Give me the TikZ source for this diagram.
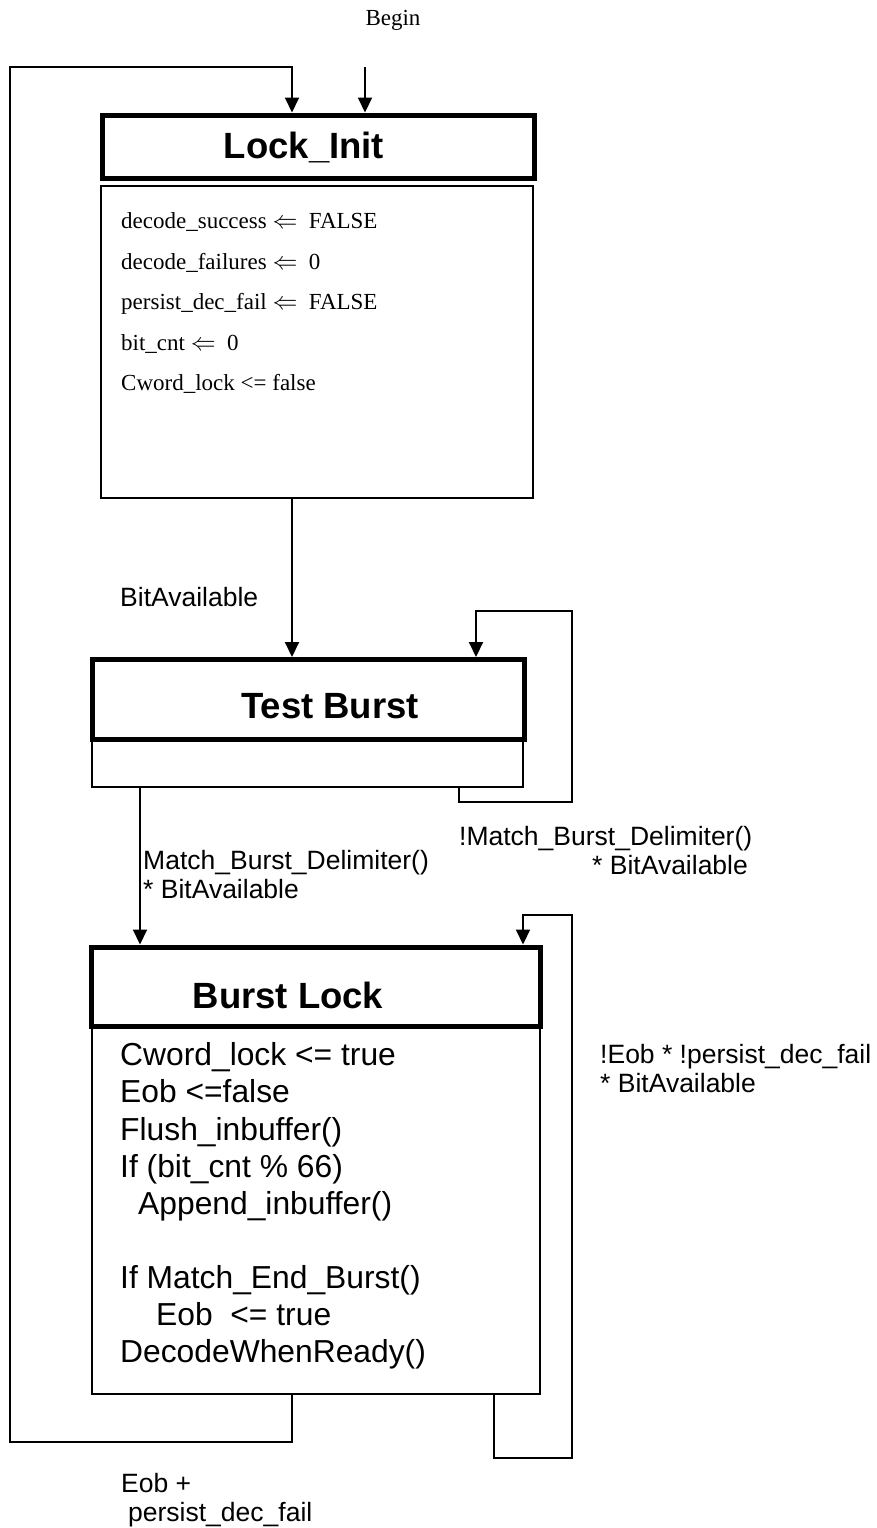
\documentclass[tikz,border=0pt]{standalone}
\usepackage{fontspec}
\setmainfont{Liberation Serif}
\setsansfont{Liberation Sans}
\usepackage{tikz}
\usetikzlibrary{arrows.meta,positioning}

\begin{document}
\begin{tikzpicture}[
    x=1pt, y=-1pt,
    >={Triangle[length=15pt,width=14pt]},
    head/.style={draw, line width=5pt, rectangle, inner sep=0pt},
    body/.style={draw, line width=2pt, rectangle, inner sep=0pt, fill=white},
    title/.style={font=\sffamily\bfseries\fontsize{36.5}{40}\selectfont, anchor=base, inner sep=0pt},
    initlines/.style={font=\fontsize{23}{40.5}\selectfont, align=left, anchor=west, inner sep=0pt},
    codelines/.style={font=\sffamily\fontsize{31.8}{37.1}\selectfont, align=left, anchor=west, inner sep=0pt},
    lab/.style={font=\sffamily\fontsize{26.5}{29}\selectfont, align=left, anchor=west, inner sep=0pt},
    conn/.style={->, line width=2pt}
  ]
    \useasboundingbox (0,0) rectangle (877,1528);

    % states
    \node[body, minimum width=432pt, minimum height=312pt] (lockbody) at (317,342) {};
    \node[head, minimum width=432pt, minimum height=63.5pt] (lockhead) at (318,146.75) {};
    \node[body, minimum width=431pt, minimum height=47.5pt] (testbody) at (307.5,763.25) {};
    \node[head, minimum width=431.5pt, minimum height=80pt] (testhead) at (308.25,699.5) {};
    \node[body, minimum width=448pt, minimum height=367.5pt] (burstbody) at (316,1210.25) {};
    \node[head, minimum width=448.5pt, minimum height=79.5pt] (bursthead) at (315.75,986.75) {};

    \node[title] (locktitle) at (304,158) {Lock\_Init};
    \node[title] (testtitle) at (330,718) {Test Burst};
    \node[title] (bursttitle) at (288,1008) {Burst Lock};

    \node[initlines] (lockcode) at (121,303) {decode\_success $\Leftarrow$\ \ FALSE\\
      decode\_failures $\Leftarrow$\ \ 0\\
      persist\_dec\_fail $\Leftarrow$\ \ FALSE\\
      bit\_cnt $\Leftarrow$\ \ 0\\
      Cword\_lock <= false};
    \node[codelines] (burstcode) at (120,1206) {Cword\_lock <= true\\
      Eob <=false\\
      Flush\_inbuffer()\\
      If (bit\_cnt \% 66)\\
      \hspace*{18pt}Append\_inbuffer()\\
      \mbox{}\\
      If Match\_End\_Burst()\\
      \hspace*{36pt}Eob\ \ <= true\\
      DecodeWhenReady()};

    % entry and bend points
    \node[font=\fontsize{23}{26}\selectfont, inner sep=0pt] (begin) at (393,20) {Begin};
    \coordinate (begintop) at (365,67);
    \coordinate (spine) at (292,0);
    \coordinate (testout) at (459,0);
    \coordinate (testin) at (476,0);
    \coordinate (matchx) at (140,0);
    \coordinate (burstout) at (494,0);
    \coordinate (burstin) at (523,0);

    % transitions
    \draw[conn] (begintop) -- (begintop |- lockhead.north);
    \draw[conn] (lockbody.south -| spine) -- (testhead.north -| spine);
    \draw[conn] (testbody.south -| testout) |- (572,802) |- (476,611) -- (testhead.north -| testin);
    \draw[conn] (testbody.south -| matchx) -- (bursthead.north -| matchx);
    \draw[conn] (burstbody.south -| burstout) |- (572,1458) |- (523,915) -- (bursthead.north -| burstin);
    \draw[conn] (burstbody.south -| spine) |- (10,1442) -- (10,67) -| (lockhead.north -| spine);

    \node[lab] (availlab) at (120,597) {BitAvailable};
    \node[lab] (matchlab) at (143,875) {Match\_Burst\_Delimiter()\\* BitAvailable};
    \node[lab] (nomatchlab) at (459,851) {!Match\_Burst\_Delimiter()\\\hspace*{133pt}* BitAvailable};
    \node[lab] (staylab) at (600,1069) {!Eob * !persist\_dec\_fail\\* BitAvailable};
    \node[lab] (exitlab) at (121,1500) {Eob +\\\hspace*{7pt}persist\_dec\_fail};
  \end{tikzpicture}
\end{document}
